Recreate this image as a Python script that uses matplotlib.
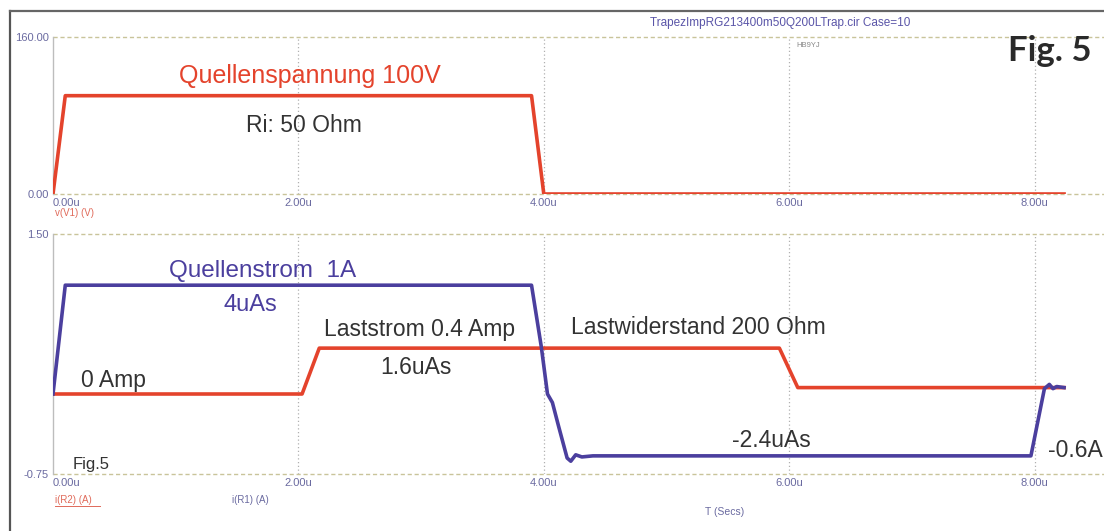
import matplotlib
matplotlib.use("Agg")
import matplotlib.pyplot as plt
from matplotlib.lines import Line2D

# ---- data (time in microseconds) ----
t_src_v = [0.0, 0.10, 3.90, 4.00, 8.24]
v_src = [0.0, 100.0, 100.0, 0.0, 0.0]

t_r2 = [0.0, 2.03, 2.17, 5.92, 6.07, 8.24]
i_r2 = [0.0, 0.0, 0.43, 0.43, 0.06, 0.06]

t_r1 = [0.0, 0.10, 3.90, 3.98, 4.03, 4.07, 4.12, 4.19, 4.22, 4.26, 4.31, 4.40, 7.97, 8.08, 8.12, 8.15, 8.18, 8.24]
i_r1 = [0.0, 1.02, 1.02, 0.44, 0.0, -0.08, -0.30, -0.60, -0.63, -0.57, -0.59, -0.58, -0.58, 0.05, 0.09, 0.05, 0.07, 0.06]

xticks = [0, 2, 4, 6, 8]
xticklabels = ["0.00u", "2.00u", "4.00u", "6.00u", "8.00u"]
top_ylim = (0.0, 160.0)
bot_ylim = (-0.75, 1.50)

W, H = 1104, 531
fig = plt.figure(figsize=(W / 100, H / 100), dpi=100)
fig.patch.set_facecolor("white")
plt.rcParams["font.family"] = ["Liberation Sans", "DejaVu Sans"]

RED = "#e4432c"
BLUE = "#4b3f9e"
TXT = "#333333"
TICKC = "#6a6aa0"

def fx(px):
    return px / W

def fy(py):
    return 1 - py / H

x_left = 53
x_right = 1104
xmax = (x_right - x_left) / 122.7

ax1 = fig.add_axes([fx(x_left), fy(194), fx(x_right - x_left), (194 - 36.7) / H])
ax2 = fig.add_axes([fx(x_left), fy(474), fx(x_right - x_left), (474 - 234) / H])

for ax, ylim in ((ax1, top_ylim), (ax2, bot_ylim)):
    ax.set_xlim(0, xmax)
    ax.set_ylim(*ylim)
    for s in ("top", "bottom", "right"):
        ax.spines[s].set_visible(False)
    ax.spines["left"].set_color("#bdbdbd")
    ax.spines["left"].set_linewidth(1.0)
    ax.axhline(ylim[1], color="#c9c49a", lw=1.0, ls=(0, (3, 2)), clip_on=False, zorder=1)
    ax.axhline(ylim[0], color="#c9c49a", lw=1.0, ls=(0, (3, 2)), clip_on=False, zorder=1)
    for xv in xticks[1:]:
        ax.axvline(xv, color="#b0b0b0", lw=0.9, ls=(0, (1, 2)), zorder=1)
    ax.set_xticks(xticks)
    ax.set_xticklabels(xticklabels)
    ax.set_yticks(list(ylim))
    ax.tick_params(length=0, labelsize=8, colors=TICKC, pad=3)
    lbls = ax.get_xticklabels()
    lbls[0].set_horizontalalignment("left")

ax1.set_yticklabels(["0.00", "160.00"])
ax2.set_yticklabels(["-0.75", "1.50"])

ax1.plot(t_src_v, v_src, color=RED, lw=2.6, solid_joinstyle="round", zorder=3)
ax2.plot(t_r2, i_r2, color=RED, lw=2.6, solid_joinstyle="round", zorder=3)
ax2.plot(t_r1, i_r1, color=BLUE, lw=2.6, solid_joinstyle="round", zorder=4)

FS = 16.5
# top panel annotations
ax1.text(1.03, 120, "Quellenspannung 100V", color=RED, fontsize=18, va="center", ha="left")
ax1.text(1.57, 70, "Ri: 50 Ohm", color=TXT, fontsize=FS, va="center", ha="left")
ax1.text(8.46, 145, "Fig. 5", color="#2a2a2a", fontsize=25, fontweight="bold",
         family=["Lato", "DejaVu Sans"], va="center", ha="right")
ax1.text(6.06, 151, "HB9YJ", color="#888888", fontsize=5.5, va="center", ha="left")

# bottom panel annotations
ax2.text(0.945, 1.15, "Quellenstrom  1A", color=BLUE, fontsize=17.5, va="center", ha="left")
ax2.text(1.39, 0.83, "4uAs", color=BLUE, fontsize=17, va="center", ha="left")
ax2.text(2.21, 0.60, "Laststrom 0.4 Amp", color=TXT, fontsize=FS, va="center", ha="left")
ax2.text(2.67, 0.25, "1.6uAs", color=TXT, fontsize=FS, va="center", ha="left")
ax2.text(4.22, 0.62, "Lastwiderstand 200 Ohm", color=TXT, fontsize=FS, va="center", ha="left")
ax2.text(0.23, 0.13, "0 Amp", color=TXT, fontsize=FS, va="center", ha="left")
ax2.text(5.53, -0.44, "-2.4uAs", color=TXT, fontsize=FS, va="center", ha="left")
ax2.text(8.11, -0.53, "-0.6A", color=TXT, fontsize=FS, va="center", ha="left")
ax2.text(0.16, -0.66, "Fig.5", color=TXT, fontsize=12, va="center", ha="left")

# figure-level labels
fig.text(fx(650), fy(23), "TrapezImpRG213400m50Q200LTrap.cir Case=10", color="#5a55a8",
         fontsize=8.5, va="center", ha="left")
fig.text(fx(55), fy(213), "v(V1) (V)", color="#e06a5a", fontsize=7, va="center", ha="left")
fig.text(fx(55), fy(500), "i(R2) (A)", color="#e06a5a", fontsize=7, va="center", ha="left")
fig.add_artist(Line2D([fx(55), fx(100)], [fy(506), fy(506)], color="#e06a5a", lw=0.7))
fig.text(fx(232), fy(500), "i(R1) (A)", color=TICKC, fontsize=7, va="center", ha="left")
fig.text(fx(705), fy(512), "T (Secs)", color=TICKC, fontsize=7.5, va="center", ha="left")

# scan frame
fig.add_artist(Line2D([fx(10), fx(10)], [fy(11), 0], color="#555555", lw=1.6))
fig.add_artist(Line2D([fx(10), 1], [fy(11), fy(11)], color="#666666", lw=1.6))

fig.savefig("out.png", dpi=100, facecolor=fig.get_facecolor())
